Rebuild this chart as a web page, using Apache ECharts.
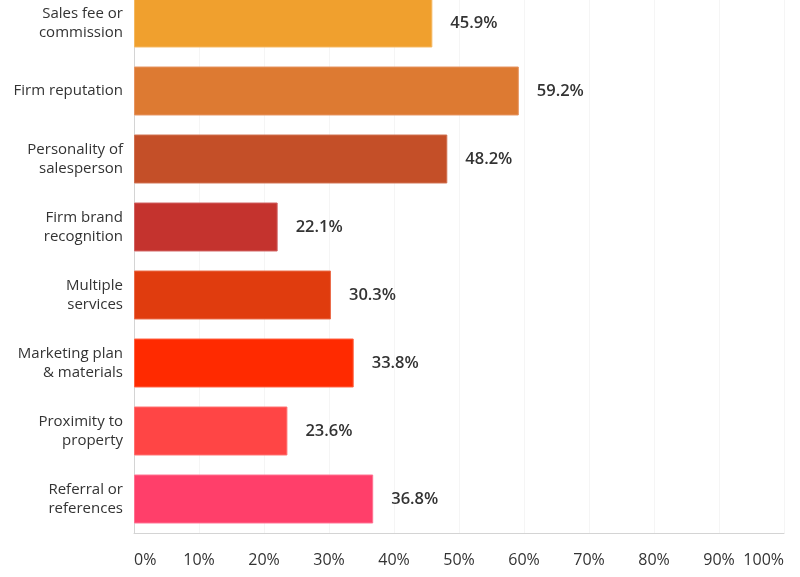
<!DOCTYPE html>
<html>
<head>
<meta charset="utf-8">
<script src="https://cdn.jsdelivr.net/npm/echarts@6/dist/echarts.min.js"></script>
<style>
html,body{margin:0;padding:0;background:#fff;overflow:hidden;width:800px;height:577px;}
#chart{position:absolute;left:0;top:-11px;width:800px;height:588px;}
</style>
</head>
<body>
<div id="chart"></div>
<script>
const categories = [
  "Sales fee or\ncommission",
  "Firm reputation",
  "Personality of\nsalesperson",
  "Firm brand\nrecognition",
  "Multiple\nservices",
  "Marketing plan\n& materials",
  "Proximity to\nproperty",
  "Referral or\nreferences"
];
const values = [45.9, 59.2, 48.2, 22.1, 30.3, 33.8, 23.6, 36.8];
const barColors = ["#F0A02E", "#DD7A32", "#C44F28", "#C4332E", "#E03C0E", "#FF2A00", "#FF4545", "#FF3F6A"];
const borderColors = ["#F4B860", "#E69460", "#D07050", "#D06060", "#EA6A48", "#FF6040", "#FF7070", "#FF7090"];

const chart = echarts.init(document.getElementById('chart'), null, {renderer: 'canvas'});
chart.setOption({
  backgroundColor: '#ffffff',
  animation: false,
  grid: {left: 134, right: 16, top: 0, bottom: 44, containLabel: false},
  xAxis: {
    type: 'value',
    min: 0, max: 100, interval: 10,
    axisLine: {show: true, lineStyle: {color: '#d4d4d4', width: 1}},
    axisTick: {show: false},
    splitLine: {show: true, lineStyle: {color: '#f5f5f5', width: 1}},
    axisLabel: {
      formatter: '{value}%',
      color: '#333',
      fontFamily: 'Open Sans',
      fontSize: 16,
      margin: 19,
      alignMinLabel: 'left',
      alignMaxLabel: 'right'
    }
  },
  yAxis: {
    type: 'category',
    data: categories,
    inverse: true,
    axisLine: {show: true, lineStyle: {color: '#d4d4d4', width: 1}},
    axisTick: {show: false},
    axisLabel: {
      color: '#333',
      fontFamily: 'Open Sans',
      fontSize: 15,
      lineHeight: 19,
      margin: 11,
      align: 'right'
    }
  },
  series: [{
    type: 'bar',
    barCategoryGap: '28%',
    data: values.map((v, i) => ({
      value: v,
      itemStyle: {color: barColors[i], borderColor: borderColors[i], borderWidth: 1}
    })),
    label: {
      show: true,
      position: 'right',
      distance: 18,
      formatter: p => p.value.toFixed(1) + '%',
      color: '#333',
      fontFamily: 'Open Sans',
      fontSize: 16.5,
      fontWeight: 600
    }
  }]
});
</script>
</body>
</html>
